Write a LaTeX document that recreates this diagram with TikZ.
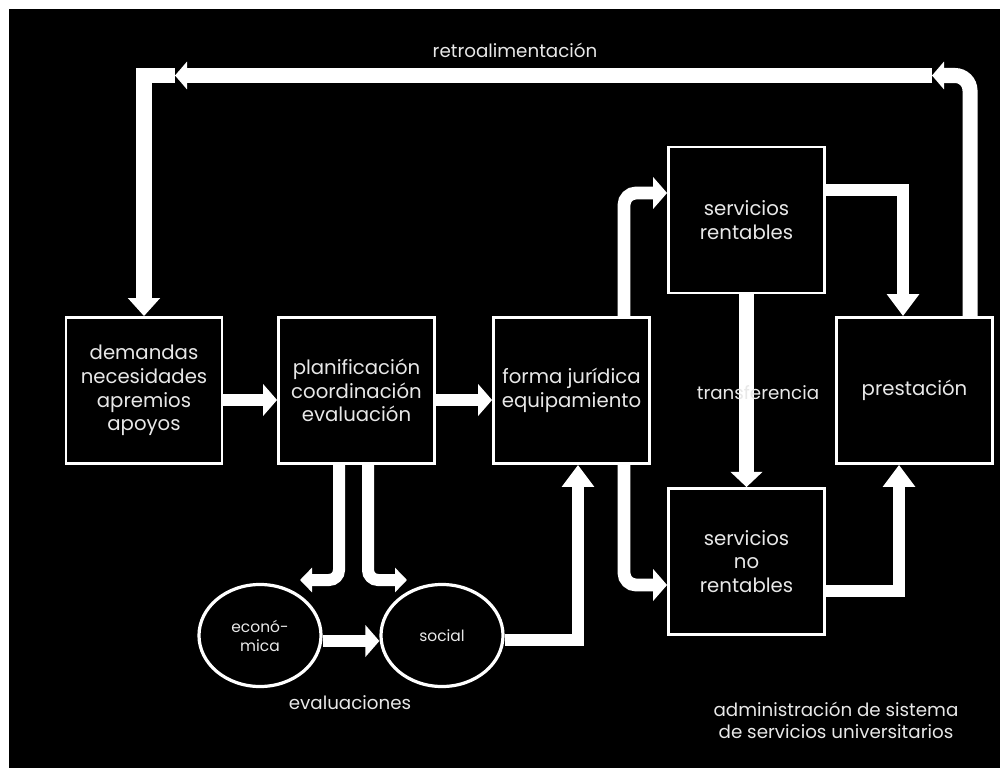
\documentclass[tikz,border=0pt]{standalone}
\usepackage{fontspec}
\setmainfont{Poppins}
\usepackage{tikz}
\usepackage{xcolor}
\usetikzlibrary{arrows.meta,positioning,calc,shapes.geometric}
\definecolor{Ink}{HTML}{000000}
\definecolor{Chalk}{HTML}{FFFFFF}
\definecolor{ChalkText}{HTML}{E8E8E8}
\tikzset{
    every node/.style={font=\fontsize{14}{16.8}\selectfont, text=ChalkText},
    stagebox/.style={
        draw=Chalk, line width=0.07cm,
        minimum width=3.9cm, minimum height=3.65cm,
        align=center, sharp corners, inner sep=2pt
    },
    evalblob/.style={
        ellipse, draw=Chalk, line width=0.08cm,
        minimum width=3.05cm, minimum height=2.55cm,
        align=center, inner sep=1pt, font=\fontsize{11}{13.5}\selectfont
    },
    note/.style={
        align=center, font=\fontsize{13}{15.8}\selectfont
    },
    flowarrow/.style={
        draw=Chalk, line width=0.32cm,
        -{Triangle[width=0.78cm,length=#1]}
    },
    flowarrow/.default=0.55cm,
    evalarrow/.style={
        draw=Chalk, line width=0.3cm,
        -{Triangle[width=0.6cm,length=0.3cm]}
    },
    retroarrow/.style={
        draw=Chalk, line width=0.375cm,
        -{Triangle[width=0.68cm,length=0.3cm]}
    },
}
\begin{document}
\begin{tikzpicture}[x=0.025cm, y=-0.025cm]
    % frame
    \useasboundingbox (0,0) rectangle (1000,768);
    \fill[Chalk] (0,0) rectangle (1000,768);
    \fill[Ink] (9,9) rectangle (1000,768);

    % stages
    \node[stagebox] (dem) at (144,390.5) {demandas\\necesidades\\apremios\\apoyos};
    \node[stagebox] (plan) at (356.5,390.5) {planificación\\coordinación\\evaluación};
    \node[stagebox] (forma) at (571.5,390.5) {forma jurídica\\equipamiento};
    \node[stagebox] (rent) at (746.5,220) {servicios\\rentables};
    \node[stagebox] (nrent) at (746.5,561.5) {servicios\\no\\rentables};
    \node[stagebox] (pres) at (914.5,390.5) {prestación};

    % evaluations
    \node[evalblob] (econ) at (260,635.5) {econó-\\mica};
    \node[evalblob] (soc) at (442,635.5) {social};

    % bends
    \coordinate (row) at (0,400);
    \coordinate (evrow) at (0,641);
    \coordinate (retroR) at (970,75.5);
    \coordinate (retroRtip) at (932,75.5);
    \coordinate (retroLtip) at (175,75.5);
    \coordinate (retroL) at (144,75.5);
    \coordinate (fr) at (624,193);
    \coordinate (fnr) at (624,585);
    \coordinate (rp) at (903,190);
    \coordinate (nrp) at (899,591);
    \coordinate (sf) at (578,640);
    \coordinate (pe) at (339,580);
    \coordinate (peTip) at (300,580);
    \coordinate (ps) at (368,580);
    \coordinate (psTip) at (407,580);

    % main flow
    \draw[flowarrow=0.35cm] (dem.east |- row) -- (plan.west |- row);
    \draw[flowarrow=0.35cm] (plan.east |- row) -- (forma.west |- row);
    \draw[flowarrow=0.35cm, rounded corners=0.3cm] (forma.north -| fr) -- (fr) -- (rent.west |- fr);
    \draw[flowarrow=0.35cm, rounded corners=0.3cm] (forma.south -| fnr) -- (fnr) -- (nrent.west |- fnr);
    \draw[flowarrow] (rent.east |- rp) -- (rp) -- (pres.north -| rp);
    \draw[flowarrow] (nrent.east |- nrp) -- (nrp) -- (pres.south -| nrp);
    \draw[flowarrow=0.38cm, line width=0.37cm] (rent.south) -- (nrent.north);
    \draw[flowarrow] (soc.east |- sf) -- (sf) -- (forma.south -| sf);

    % evaluation branch
    \draw[evalarrow, rounded corners=0.25cm] (plan.south -| pe) -- (pe) -- (peTip);
    \draw[evalarrow, rounded corners=0.25cm] (plan.south -| ps) -- (ps) -- (psTip);
    \draw[flowarrow=0.35cm] (econ.east |- evrow) -- (soc.west |- evrow);

    % feedback loop
    \draw[retroarrow, rounded corners=0.375cm] (pres.north -| retroR) -- (retroR) -- (retroRtip);
    \draw[retroarrow] (retroRtip) -- (retroLtip);
    \draw[flowarrow=0.45cm, line width=0.375cm] (retroLtip) -- (retroL) -- (dem.north);

    % labels
    \node[note] (retro) at (515,50) {retroalimentación};
    \node[note] (evals) at (350,703) {evaluaciones};
    \node[note] (transf) at (758,393) {transferencia};
    \node[note] (admin) at (836,720) {administración de sistema\\de servicios universitarios};
\end{tikzpicture}
\end{document}
